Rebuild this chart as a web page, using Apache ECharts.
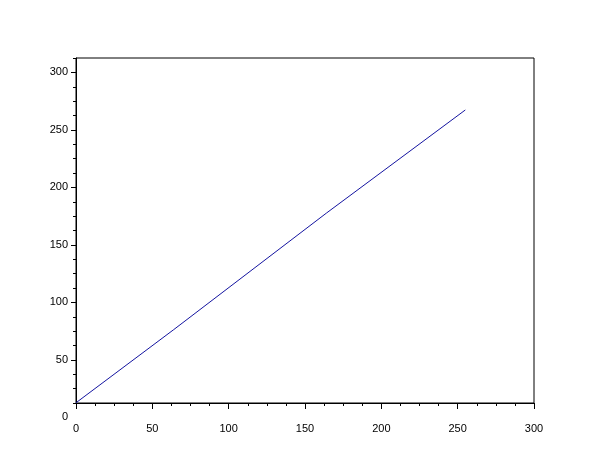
<!DOCTYPE html>
<html>
<head>
<meta charset="utf-8">
<script src="https://cdn.jsdelivr.net/npm/echarts@6/dist/echarts.min.js"></script>
<style>
  html, body { margin: 0; padding: 0; background: #fff; }
  #chart { width: 610px; height: 461px; }
</style>
</head>
<body>
<div id="chart"></div>
<script>
// values
var xValues = [0, 64, 164, 255];
var yValues = [12.7, 76.3, 177.6, 267.3];
var xTicks = [0, 300, 50];          // min, max, step
var yRange = [12.5, 312.5];         // axis bounds of the plot box
var yStep = 50;
var yMinorStep = 12.5;

var black = '#000';
var labelFont = { color: black, fontSize: 11, fontFamily: 'Liberation Sans, Arial, sans-serif' };

var points = xValues.map(function (x, i) { return [x, yValues[i]]; });

var chart = echarts.init(document.getElementById('chart'), null, { renderer: 'canvas' });

var option = {
  animation: false,
  backgroundColor: '#fff',
  grid: {
    left: 76, right: 76, top: 58, bottom: 58,
    show: true, borderColor: black, borderWidth: 1,
    containLabel: false
  },
  xAxis: {
    type: 'value',
    min: xTicks[0], max: xTicks[1], interval: xTicks[2],
    axisLine: { show: true, lineStyle: { color: black, width: 1 } },
    axisTick: { show: true, inside: false, length: 6, lineStyle: { color: black } },
    minorTick: { show: true, splitNumber: 4, length: 3, lineStyle: { color: black } },
    splitLine: { show: false },
    axisLabel: Object.assign({ margin: 20 }, labelFont)
  },
  yAxis: [
    {
      // major ticks + labels
      type: 'value',
      min: yRange[0], max: yRange[1], splitNumber: 6,
      axisLine: { show: true, lineStyle: { color: black, width: 1 } },
      axisTick: { show: true, inside: false, length: 5, lineStyle: { color: black } },
      splitLine: { show: false },
      axisLabel: Object.assign({
        margin: 8,
        showMinLabel: false,
        showMaxLabel: false,
        formatter: function (v) { return v % yStep === 0 ? String(v) : ''; }
      }, labelFont)
    },
    {
      // minor ticks only
      type: 'value',
      position: 'left',
      min: yRange[0], max: yRange[1], interval: yMinorStep,
      axisLine: { show: false },
      axisTick: { show: true, inside: false, length: 3, lineStyle: { color: black } },
      splitLine: { show: false },
      axisLabel: { show: false }
    }
  ],
  series: [{
    type: 'line',
    yAxisIndex: 0,
    data: points,
    showSymbol: false,
    symbol: 'none',
    lineStyle: { color: '#1414a0', width: 1 },
    silent: true
  }]
};

chart.setOption(option);

// Scilab puts a "0" label below the box, outside the y range
var zeroY = chart.convertToPixel({ yAxisIndex: 0 }, 0);
chart.setOption({
  graphic: [{
    type: 'text',
    x: 76 - 8,
    y: zeroY,
    style: {
      text: '0',
      fill: black,
      font: '11px Liberation Sans, Arial, sans-serif',
      align: 'right',
      verticalAlign: 'middle'
    }
  }]
});
</script>
</body>
</html>
